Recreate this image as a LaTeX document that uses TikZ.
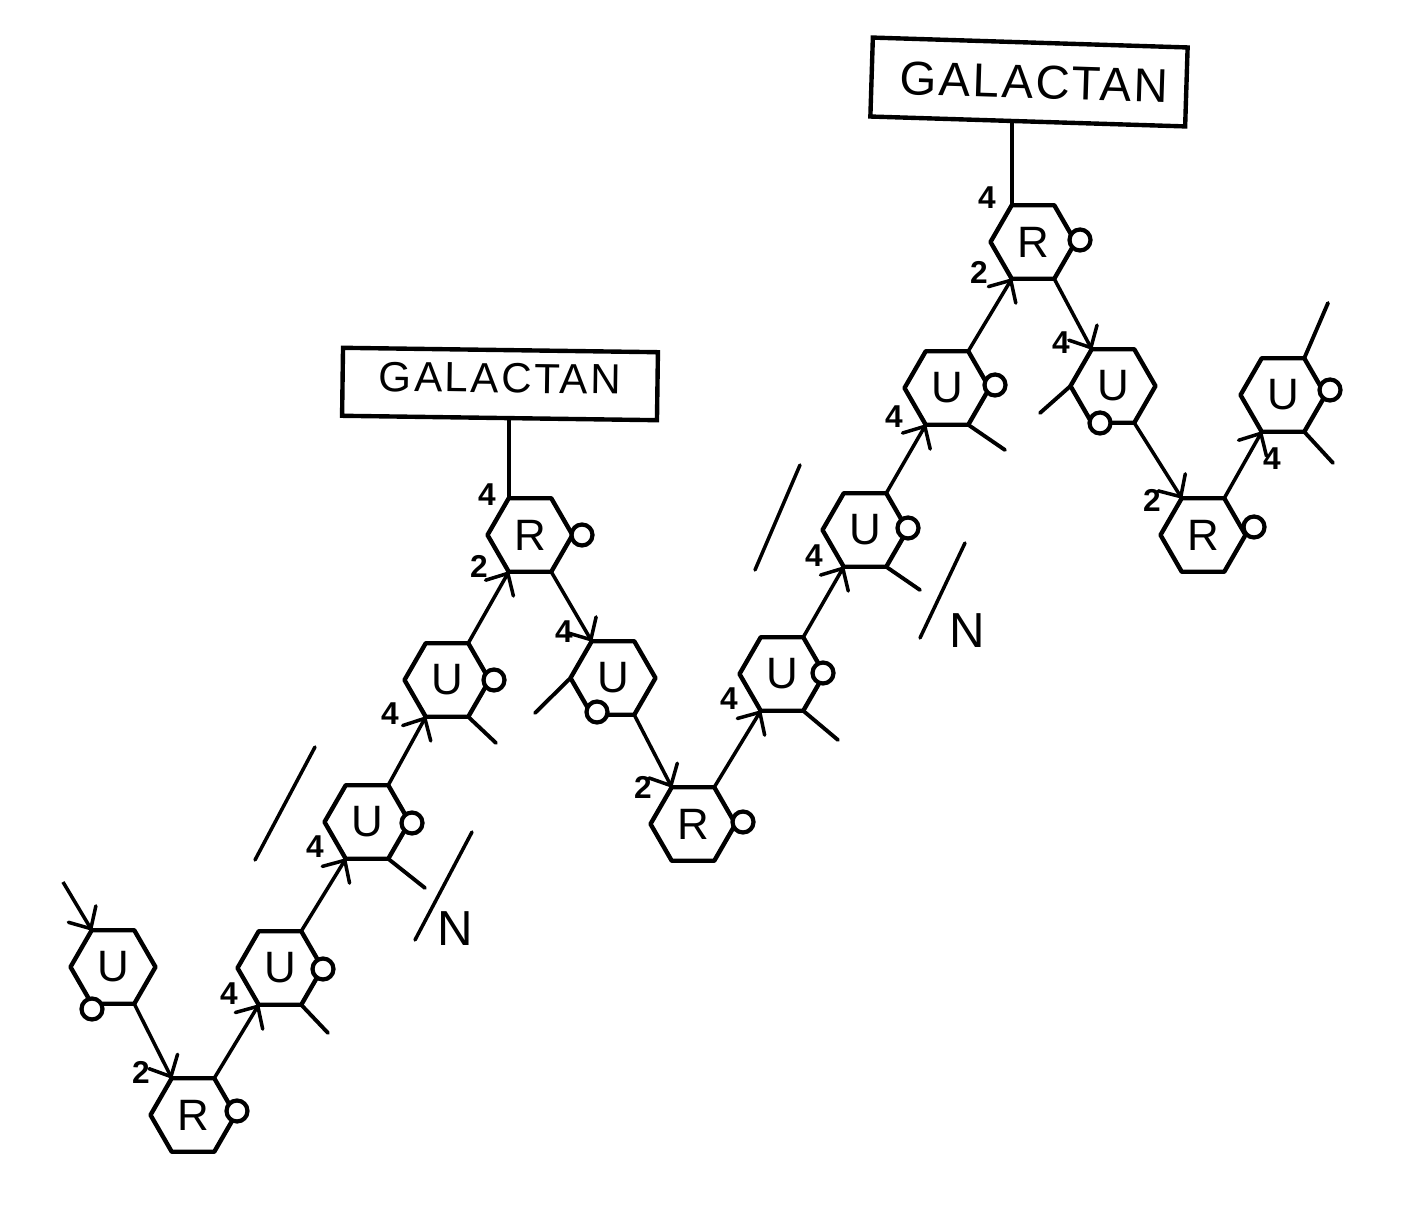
\documentclass[tikz,border=0pt]{standalone}
\usepackage{fontspec}
\setmainfont{Liberation Sans}
\usepackage{tikz}
\usetikzlibrary{arrows.meta,shapes.geometric}
\tikzset{
  ring/.style={regular polygon, regular polygon sides=6, draw, line width=2.5pt,
               line join=round, minimum size=1.70cm, inner sep=0pt, outer sep=0pt,
               font=\fontsize{25}{25}\selectfont},
  oxy/.style={circle, draw, fill=white, line width=2.4pt, minimum size=4.2mm,
              inner sep=0pt},
  num/.style={font=\fontsize{18}{18}\selectfont\bfseries, inner sep=0pt},
  rep/.style={font=\fontsize{28}{28}\selectfont, inner sep=0pt},
  chain/.style={draw, line width=2.5pt, minimum width=6.3cm, align=center},
  glyco/.style={-{Straight Barb[length=3.4mm,width=6.4mm,round]}, line width=2pt},
  bond/.style={line width=2.2pt, line cap=round},
  span/.style={line width=2pt, line cap=round},
}
\begin{document}
\begin{tikzpicture}[x=0.02cm, y=-0.02cm]
  \useasboundingbox (0,0) rectangle (1401,1209);

  % sugar rings
  \node[ring] (U1) at (113,967) {U};
  \node[ring] (R1) at (193,1115) {R};
  \node[ring] (U2) at (280,968) {U};
  \node[ring] (U3) at (367,822) {U};
  \node[ring] (U4) at (447,680) {U};
  \node[ring] (R2) at (530,535) {R};
  \node[ring] (U5) at (613,678) {U};
  \node[ring] (R3) at (693,824) {R};
  \node[ring] (U6) at (782,674) {U};
  \node[ring] (U7) at (865,530) {U};
  \node[ring] (U8) at (947,388) {U};
  \node[ring] (R4) at (1033,242) {R};
  \node[ring] (U9) at (1113,386) {U};
  \node[ring] (R5) at (1203,535) {R};
  \node[ring] (U10) at (1283,395) {U};

  % ring oxygens
  \node[oxy] (oU1) at (92,1009) {};
  \node[oxy] (oR1) at (237,1111) {};
  \node[oxy] (oU2) at (323,969) {};
  \node[oxy] (oU3) at (412,823) {};
  \node[oxy] (oU4) at (494,680) {};
  \node[oxy] (oR2) at (582,535) {};
  \node[oxy] (oU5) at (597,712) {};
  \node[oxy] (oR3) at (743,822) {};
  \node[oxy] (oU6) at (823,673) {};
  \node[oxy] (oU7) at (908,528) {};
  \node[oxy] (oU8) at (995,385) {};
  \node[oxy] (oR4) at (1080,240) {};
  \node[oxy] (oU9) at (1100,423) {};
  \node[oxy] (oR5) at (1254,527) {};
  \node[oxy] (oU10) at (1330,390) {};

  % galactan side chains
  \node[chain, rotate=-0.8, minimum height=1.36cm, text depth=2.4mm,
        font=\fontsize{24}{24}\selectfont\addfontfeature{LetterSpace=6}] (gal1) at (500,384) {GALACTAN};
  \node[chain, rotate=-1.8, minimum height=1.58cm,
        font=\fontsize{27}{27}\selectfont\addfontfeature{LetterSpace=5}] (gal2) at (1029,82) {\hspace*{2mm}GALACTAN};
  \draw[bond] (gal1.south -| R2.120) -- (R2.120);
  \draw[bond] (gal2.south -| R4.120) -- (R4.120);

  % linkages along the backbone
  \coordinate (start) at (63,882);
  \draw[glyco] (start) -- (U1.120);
  \draw[glyco] (U1.300) -- (R1.120);
  \draw[glyco] (R1.60) -- (U2.240);
  \draw[glyco] (U2.60) -- (U3.240);
  \draw[glyco] (U3.60) -- (U4.240);
  \draw[glyco] (U4.60) -- (R2.240);
  \draw[glyco] (R2.300) -- (U5.120);
  \draw[glyco] (U5.300) -- (R3.120);
  \draw[glyco] (R3.60) -- (U6.240);
  \draw[glyco] (U6.60) -- (U7.240);
  \draw[glyco] (U7.60) -- (U8.240);
  \draw[glyco] (U8.60) -- (R4.240);
  \draw[glyco] (R4.300) -- (U9.120);
  \draw[glyco] (U9.300) -- (R5.120);
  \draw[glyco] (R5.60) -- (U10.240);

  % free bonds on the rings
  \coordinate (eU2) at (328,1033);
  \coordinate (eU3) at (425,888);
  \coordinate (eU4) at (496,743);
  \coordinate (eU5) at (535,713);
  \coordinate (eU6) at (838,740);
  \coordinate (eU7) at (920,590);
  \coordinate (eU8) at (1005,450);
  \coordinate (eU9) at (1040,413);
  \coordinate (eU10a) at (1328,303);
  \coordinate (eU10b) at (1333,463);
  \draw[bond] (U2.300) -- (eU2);
  \draw[bond] (U3.300) -- (eU3);
  \draw[bond] (U4.300) -- (eU4);
  \draw[bond] (U5.180) -- (eU5);
  \draw[bond] (U6.300) -- (eU6);
  \draw[bond] (U7.300) -- (eU7);
  \draw[bond] (U8.300) -- (eU8);
  \draw[bond] (U9.180) -- (eU9);
  \draw[bond] (U10.60) -- (eU10a);
  \draw[bond] (U10.300) -- (eU10b);

  % repeat marks
  \coordinate (b1a) at (315,747);
  \coordinate (b1b) at (255,860);
  \coordinate (b2a) at (472,832);
  \coordinate (b2b) at (415,940);
  \coordinate (b3a) at (800,465);
  \coordinate (b3b) at (755,570);
  \coordinate (b4a) at (965,543);
  \coordinate (b4b) at (920,638);
  \draw[span] (b1a) -- (b1b);
  \draw[span] (b2a) -- (b2b);
  \draw[span] (b3a) -- (b3b);
  \draw[span] (b4a) -- (b4b);
  \node[rep] (nA) at (455,929) {N};
  \node[rep] (nB) at (967,631) {N};

  % linkage numbers
  \node[num] (n1) at (141,1072) {2};
  \node[num] (n2) at (229,994) {4};
  \node[num] (n3) at (315,847) {4};
  \node[num] (n4) at (390,714) {4};
  \node[num] (n5) at (487,495) {4};
  \node[num] (n6) at (479,566) {2};
  \node[num] (n7) at (564,632) {4};
  \node[num] (n8) at (643,787) {2};
  \node[num] (n9) at (729,699) {4};
  \node[num] (n10) at (814,556) {4};
  \node[num] (n11) at (894,417) {4};
  \node[num] (n12) at (987,198) {4};
  \node[num] (n13) at (979,272) {2};
  \node[num] (n14) at (1061,343) {4};
  \node[num] (n15) at (1152,500) {2};
  \node[num] (n16) at (1272,459) {4};
\end{tikzpicture}
\end{document}
